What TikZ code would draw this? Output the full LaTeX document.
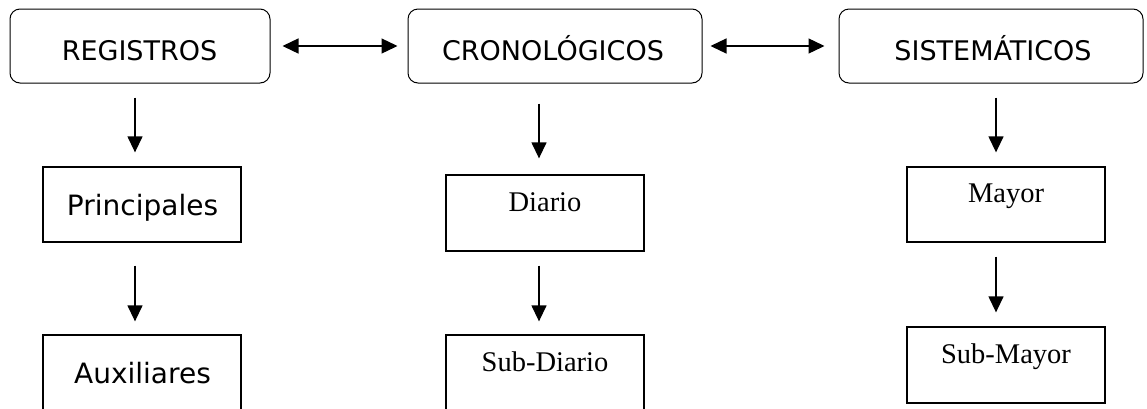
\documentclass[tikz,border=0pt]{standalone}
\usepackage{fontspec}
\setmainfont{Liberation Serif}
\newfontfamily\sansf{DejaVu Sans}
\usetikzlibrary{arrows.meta}
\begin{document}
\begin{tikzpicture}[x=1pt,y=-1pt,
  rbox/.style={draw, rounded corners=10pt, line width=1pt, minimum width=#1, minimum height=74pt, inner sep=0pt},
  sbox/.style={draw, line width=1.3pt, minimum width=198pt, minimum height=#1, inner sep=0pt},
  stxt/.style={anchor=base, inner sep=0pt, font=\sansf\fontsize{27}{32}\selectfont},
  ptxt/.style={anchor=base, inner sep=0pt, font=\sansf\fontsize{28}{33}\selectfont},
  rtxt/.style={anchor=base, inner sep=0pt, font=\fontsize{28.5}{33}\selectfont},
  tip/.tip={Triangle[length=16pt,width=15pt]},
  arr/.style={line width=1.3pt, -tip},
  darr/.style={line width=1.3pt, tip-tip}]
\useasboundingbox (0,0) rectangle (1147,408);
% top row
\node[rbox=260pt] (reg) at (140,46) {};
\node[rbox=294pt] (cro) at (555,46) {};
\node[rbox=304pt] (sis) at (991,46) {};
\node[stxt] (treg) at (139.5,60) {REGISTROS};
\node[stxt] (tcro) at (553,60) {CRONOLÓGICOS};
\node[stxt] (tsis) at (993,60) {SISTEMÁTICOS};
% left column
\node[sbox=75pt] (prin) at (142,204.5) {};
\node[sbox=75pt] (aux) at (142,372.5) {};
\node[ptxt] (tprin) at (142.5,215) {Principales};
\node[ptxt] (taux) at (142.5,383) {Auxiliares};
% middle column
\node[sbox=76pt] (dia) at (545,213) {};
\node[sbox=76pt] (sdia) at (545,373) {};
\node[rtxt] (tdia) at (545,211.7) {Diario};
\node[rtxt] (tsdia) at (545,371.7) {Sub-Diario};
% right column
\node[sbox=75pt] (may) at (1006,204.5) {};
\node[sbox=76pt] (smay) at (1006,365) {};
\node[rtxt] (tmay) at (1006,202.7) {Mayor};
\node[rtxt] (tsmay) at (1006,363.3) {Sub-Mayor};
% horizontal double arrows
\draw[darr] ([xshift=12pt]reg.east) -- ([xshift=-10pt]cro.west);
\draw[darr] ([xshift=8pt]cro.east) -- ([xshift=-14pt]sis.west);
% vertical arrows
\draw[arr] ([xshift=-5pt,yshift=-14pt]reg.south) -- ([xshift=-7pt,yshift=14pt]prin.north);
\draw[arr] ([xshift=-7pt,yshift=-23pt]prin.south) -- ([xshift=-7pt,yshift=13pt]aux.north);
\draw[arr] ([xshift=-16pt,yshift=-20pt]cro.south) -- ([xshift=-6pt,yshift=16pt]dia.north);
\draw[arr] ([xshift=-6pt,yshift=-14pt]dia.south) -- ([xshift=-6pt,yshift=13pt]sdia.north);
\draw[arr] ([xshift=5pt,yshift=-14pt]sis.south) -- ([xshift=-10pt,yshift=14pt]may.north);
\draw[arr] ([xshift=-10pt,yshift=-14pt]may.south) -- ([xshift=-10pt,yshift=14pt]smay.north);
\end{tikzpicture}
\end{document}
